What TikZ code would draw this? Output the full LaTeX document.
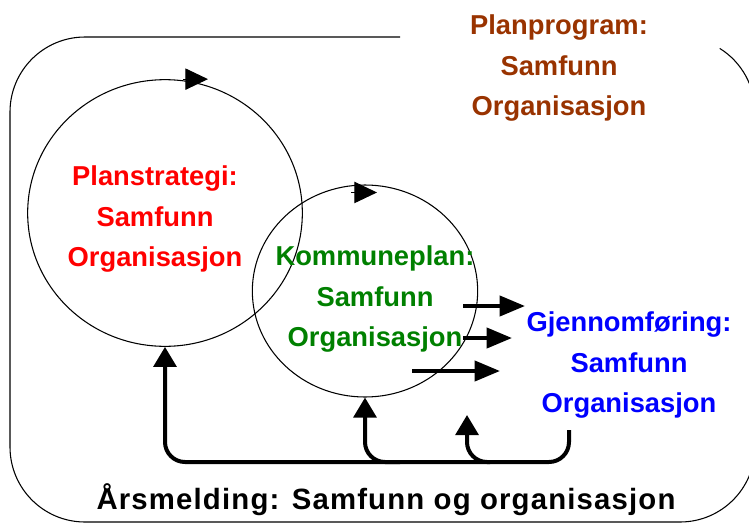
\documentclass[tikz,border=0pt]{standalone}
\usepackage{fontspec}
\setmainfont{Liberation Sans}
\usepackage{tikz}
\usetikzlibrary{arrows.meta,shapes.geometric}

\definecolor{progbrown}{RGB}{153,51,0}
\definecolor{kplangreen}{RGB}{0,128,0}
\definecolor{gjenblue}{RGB}{0,0,255}

\begin{document}
\begin{tikzpicture}[x=0.75pt,y=-0.75pt,
    ring/.style={draw,ellipse,line width=0.8pt,inner sep=0pt},
    phase/.style={align=center,font=\bfseries\fontsize{20.5}{30.2}\selectfont},
    turn/.style={line width=0.8pt,-{Triangle[length=17pt,width=16pt]}},
    flow/.style={line width=3pt,-{Triangle[length=19pt,width=15pt]}},
    back/.style={line width=3pt,rounded corners=15pt,-{Triangle[length=15pt,width=17pt]}}]

    \useasboundingbox (0,0) rectangle (749,525);

    % Outer frame, open at the top right
    \draw[line width=0.8pt] (400,37) -- (85,37) arc[start angle=-90,end angle=-180,radius=75]
        -- (10,447) arc[start angle=180,end angle=90,radius=75]
        -- (680,522) arc[start angle=90,end angle=0,radius=75]
        -- (755,112) arc[start angle=0,end angle=-58,radius=75];

    % Circles
    \node[ring,minimum width=206pt,minimum height=200pt] (strategiring) at (165,213) {}; % Planstrategi circle
    \node[ring,minimum width=169pt,minimum height=159pt] (planring) at (365,291) {}; % Kommuneplan circle
    \draw[turn] ([shift={(18,0)}]strategiring.north) -- ++(25,0); % Direction on Planstrategi
    \draw[turn] ([shift={(-14,8)}]planring.north) -- ++(26,0); % Direction on Kommuneplan

    % Labels
    \node[phase,text=progbrown] (program) at (559,68) {Planprogram:\\Samfunn\\Organisasjon};
    \node[phase,text=red] (strategi) at (155,219) {Planstrategi:\\Samfunn\\Organisasjon};
    \node[phase,text=kplangreen] (kplan) at (375,299) {Kommuneplan:\\Samfunn\\Organisasjon};
    \node[phase,text=gjenblue] (gjen) at (629,365) {Gjennomføring:\\Samfunn\\Organisasjon};
    \node[font=\bfseries\fontsize{22}{26}\selectfont\addfontfeature{LetterSpace=4}] (aars) at (386,500) {Årsmelding: Samfunn og organisasjon};

    % Kommuneplan to Gjennomføring
    \coordinate (o1) at (463,306); \coordinate (i1) at (525,306);
    \coordinate (o2) at (463,338); \coordinate (i2) at (512,338);
    \coordinate (o3) at (412,371); \coordinate (i3) at (500,371);
    \draw[flow] (o1) -- (i1);
    \draw[flow] (o2) -- (i2);
    \draw[flow] (o3) -- (i3);

    % Feedback from Gjennomføring
    \coordinate (g0) at (569,430); % foot of Gjennomføring
    \coordinate (bus) at (165,462); % left end of return line
    \coordinate (m0) at (400,462);
    \coordinate (r0) at (490,462);
    \coordinate (r1) at (467,415); % free end of short return
    \draw[back] (g0) |- (bus) -- (strategiring.south); % back to Planstrategi
    \draw[back] (m0) -| (planring.south); % back to Kommuneplan
    \draw[back] (r0) -| (r1); % back up

\end{tikzpicture}
\end{document}
